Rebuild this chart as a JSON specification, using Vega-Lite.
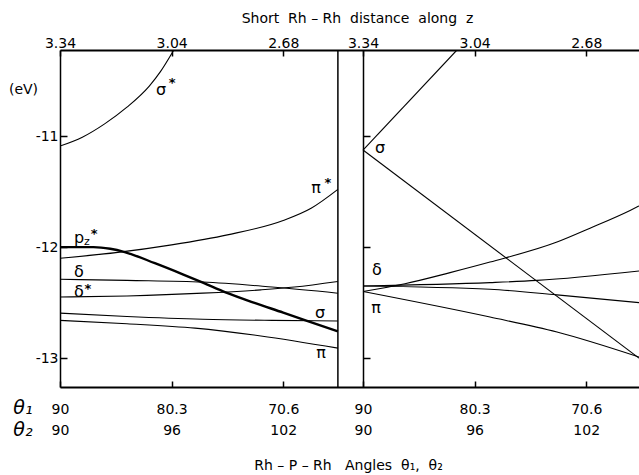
{
  "$schema": "https://vega.github.io/schema/vega-lite/v6.json",
  "width": 579,
  "height": 337,
  "autosize": {"type": "none"},
  "padding": {"left": 60, "top": 50, "right": 0, "bottom": 88},
  "config": {
    "view": {"stroke": null},
    "font": "DejaVu Sans",
    "axis": {
      "labelFont": "DejaVu Sans", "titleFont": "DejaVu Sans",
      "labelColor": "black", "titleColor": "black", "tickColor": "black", "domainColor": "black",
      "labelFontSize": 14, "titleFontSize": 14, "titleFontWeight": "normal",
      "grid": false, "labelFlush": false, "labelOverlap": false, "labelBound": false
    }
  },
  "datasets": {
    "curves": [
      {"curve": "sigmaStar", "t": 0, "v": -11.09}, {"curve": "sigmaStar", "t": 0.2, "v": -11.01}, {"curve": "sigmaStar", "t": 0.4, "v": -10.89}, {"curve": "sigmaStar", "t": 0.6, "v": -10.74}, {"curve": "sigmaStar", "t": 0.8, "v": -10.55}, {"curve": "sigmaStar", "t": 0.9, "v": -10.42}, {"curve": "sigmaStar", "t": 1.02, "v": -10.225},
      {"curve": "piStar", "t": 0, "v": -12.10}, {"curve": "piStar", "t": 0.5, "v": -12.05}, {"curve": "piStar", "t": 1.0, "v": -11.98}, {"curve": "piStar", "t": 1.5, "v": -11.89}, {"curve": "piStar", "t": 2.0, "v": -11.76}, {"curve": "piStar", "t": 2.25, "v": -11.65}, {"curve": "piStar", "t": 2.49, "v": -11.48},
      {"curve": "pz", "t": 0, "v": -12.0}, {"curve": "pz", "t": 0.3, "v": -12.0}, {"curve": "pz", "t": 0.45, "v": -12.015}, {"curve": "pz", "t": 0.58, "v": -12.045}, {"curve": "pz", "t": 0.85, "v": -12.145}, {"curve": "pz", "t": 1.1, "v": -12.245}, {"curve": "pz", "t": 1.28, "v": -12.32}, {"curve": "pz", "t": 1.49, "v": -12.41}, {"curve": "pz", "t": 1.75, "v": -12.505}, {"curve": "pz", "t": 2.0, "v": -12.59}, {"curve": "pz", "t": 2.2, "v": -12.66}, {"curve": "pz", "t": 2.49, "v": -12.76},
      {"curve": "delta", "t": 0, "v": -12.29}, {"curve": "delta", "t": 0.6, "v": -12.30}, {"curve": "delta", "t": 1.28, "v": -12.315}, {"curve": "delta", "t": 1.9, "v": -12.36}, {"curve": "delta", "t": 2.49, "v": -12.415},
      {"curve": "deltaStar", "t": 0, "v": -12.45}, {"curve": "deltaStar", "t": 0.6, "v": -12.44}, {"curve": "deltaStar", "t": 1.28, "v": -12.415}, {"curve": "deltaStar", "t": 1.8, "v": -12.385}, {"curve": "deltaStar", "t": 2.1, "v": -12.36}, {"curve": "deltaStar", "t": 2.49, "v": -12.31},
      {"curve": "sigma", "t": 0, "v": -12.595}, {"curve": "sigma", "t": 0.6, "v": -12.625}, {"curve": "sigma", "t": 1.28, "v": -12.65}, {"curve": "sigma", "t": 1.9, "v": -12.66}, {"curve": "sigma", "t": 2.49, "v": -12.665},
      {"curve": "pi", "t": 0, "v": -12.66}, {"curve": "pi", "t": 0.6, "v": -12.69}, {"curve": "pi", "t": 1.21, "v": -12.73}, {"curve": "pi", "t": 1.8, "v": -12.80}, {"curve": "pi", "t": 2.49, "v": -12.91},
      {"curve": "sigmaUpR", "t": 2.715, "v": -11.126}, {"curve": "sigmaUpR", "t": 3.557, "v": -10.225},
      {"curve": "sigmaDownR", "t": 2.715, "v": -11.126}, {"curve": "sigmaDownR", "t": 5.188, "v": -13.0},
      {"curve": "aR", "t": 2.715, "v": -12.40}, {"curve": "aR", "t": 3.091, "v": -12.33}, {"curve": "aR", "t": 3.495, "v": -12.23}, {"curve": "aR", "t": 3.853, "v": -12.135}, {"curve": "aR", "t": 4.453, "v": -11.955}, {"curve": "aR", "t": 4.749, "v": -11.83}, {"curve": "aR", "t": 5.108, "v": -11.67}, {"curve": "aR", "t": 5.188, "v": -11.63},
      {"curve": "bR", "t": 2.715, "v": -12.35}, {"curve": "bR", "t": 3.853, "v": -12.32}, {"curve": "bR", "t": 4.274, "v": -12.30}, {"curve": "bR", "t": 5.188, "v": -12.215},
      {"curve": "cR", "t": 2.715, "v": -12.35}, {"curve": "cR", "t": 3.853, "v": -12.38}, {"curve": "cR", "t": 4.453, "v": -12.43}, {"curve": "cR", "t": 5.188, "v": -12.50},
      {"curve": "piR", "t": 2.715, "v": -12.40}, {"curve": "piR", "t": 3.853, "v": -12.63}, {"curve": "piR", "t": 4.453, "v": -12.765}, {"curve": "piR", "t": 5.188, "v": -12.99}
    ],
    "labels": [
      {"label": "σ", "t": 0.905, "v": -10.586},
      {"label": "π", "t": 2.294, "v": -11.468},
      {"label": "p", "t": 0.17, "v": -11.919},
      {"label": "δ", "t": 0.17, "v": -12.222},
      {"label": "δ", "t": 0.17, "v": -12.405},
      {"label": "σ", "t": 2.33, "v": -12.595},
      {"label": "π", "t": 2.339, "v": -12.955},
      {"label": "σ", "t": 2.867, "v": -11.108},
      {"label": "δ", "t": 2.84, "v": -12.207},
      {"label": "π", "t": 2.832, "v": -12.55}
    ],
    "stars": [
      {"label": "*", "t": 1.004, "v": -10.495},
      {"label": "*", "t": 2.401, "v": -11.396},
      {"label": "*", "t": 0.251, "v": -12.35},
      {"label": "*", "t": 0.305, "v": -11.856}
    ],
    "subs": [
      {"label": "z", "t": 0.242, "v": -11.955}
    ],
    "rows": [
      {"label": "θ₁", "t": -0.332, "v": -13.45},
      {"label": "θ₂", "t": -0.332, "v": -13.649}
    ]
  },
  "layer": [
    {
      "data": {"name": "curves"},
      "transform": [{"filter": "datum.curve !== 'pz'"}],
      "mark": {"type": "line", "interpolate": "monotone", "color": "black", "strokeWidth": 1.1, "clip": true},
      "encoding": {
        "x": {"field": "t", "type": "quantitative", "scale": {"domain": [0, 5.188], "nice": false, "zero": false},
          "axis": {"orient": "bottom", "values": [0, 1, 2, 2.715, 3.715, 4.715], "tickSize": -6, "tickWidth": 1.5, "domainWidth": 2,
            "labelExpr": "[['90','90'],['80.3','96'],['70.6','102']][round(datum.value > 2.6 ? datum.value - 2.715 : datum.value)]",
            "labelLineHeight": 21, "labelPadding": 21, "labelBaseline": "top",
            "title": "Rh – P – Rh \u00a0 Angles \u00a0θ₁, \u00a0θ₂", "titleX": 288, "titleY": 78, "titleBaseline": "middle", "titleAlign": "center"}},
        "y": {"field": "v", "type": "quantitative", "scale": {"domain": [-13.26, -10.225], "nice": false, "zero": false},
          "axis": {"orient": "left", "values": [-11, -12, -13], "tickSize": -7, "tickWidth": 1.5, "domainWidth": 1.5,
            "labelExpr": "'-' + abs(datum.value)", "labelPadding": 9,
            "title": "(eV)", "titleAngle": 0, "titleX": -37, "titleY": 39, "titleAlign": "center", "titleBaseline": "middle"}},
        "detail": {"field": "curve"}
      }
    },
    {
      "data": {"name": "curves"},
      "transform": [{"filter": "datum.curve === 'pz'"}],
      "mark": {"type": "line", "interpolate": "monotone", "color": "black", "strokeWidth": 2.4, "clip": true},
      "encoding": {
        "x": {"field": "t", "type": "quantitative", "scale": {"domain": [0, 5.188], "nice": false, "zero": false}, "axis": null},
        "y": {"field": "v", "type": "quantitative", "scale": {"domain": [-13.26, -10.225], "nice": false, "zero": false}, "axis": null},
        "detail": {"field": "curve"}
      }
    },
    {
      "data": {"name": "labels"},
      "mark": {"type": "text", "fontSize": 16, "baseline": "middle", "align": "center", "color": "black"},
      "encoding": {
        "x": {"field": "t", "type": "quantitative", "scale": {"domain": [0, 5.188], "nice": false, "zero": false},
          "axis": {"orient": "top", "values": [0, 1, 2, 2.715, 3.715, 4.715], "tickSize": -6, "tickWidth": 1.5, "domainWidth": 2,
            "labelExpr": "['3.34','3.04','2.68'][round(datum.value > 2.6 ? datum.value - 2.715 : datum.value)]",
            "labelPadding": 6,
            "title": "Short \u00a0Rh – Rh \u00a0distance \u00a0along \u00a0z", "titleX": 297, "titleY": -32, "titleBaseline": "middle", "titleAlign": "center"}},
        "y": {"field": "v", "type": "quantitative", "scale": {"domain": [-13.26, -10.225], "nice": false, "zero": false},
          "axis": {"orient": "right", "offset": -276, "values": [-11, -12, -13], "tickSize": 7, "tickWidth": 1.5, "domainWidth": 1.5, "labels": false, "title": null}},
        "text": {"field": "label"}
      }
    },
    {
      "data": {"name": "stars"},
      "mark": {"type": "text", "fontSize": 13, "fontWeight": "bold", "baseline": "middle", "align": "center", "dy": 3, "color": "black"},
      "encoding": {
        "x": {"field": "t", "type": "quantitative", "scale": {"domain": [0, 5.188], "nice": false, "zero": false}, "axis": null},
        "y": {"field": "v", "type": "quantitative", "scale": {"domain": [-13.26, -10.225], "nice": false, "zero": false}, "axis": null},
        "text": {"field": "label"}
      }
    },
    {
      "data": {"name": "subs"},
      "mark": {"type": "text", "fontSize": 11, "baseline": "middle", "align": "center", "color": "black"},
      "encoding": {
        "x": {"field": "t", "type": "quantitative", "scale": {"domain": [0, 5.188], "nice": false, "zero": false}, "axis": null},
        "y": {"field": "v", "type": "quantitative", "scale": {"domain": [-13.26, -10.225], "nice": false, "zero": false}, "axis": null},
        "text": {"field": "label"}
      }
    },
    {
      "data": {"name": "rows"},
      "mark": {"type": "text", "fontSize": 19, "fontStyle": "italic", "baseline": "middle", "align": "center", "color": "black"},
      "encoding": {
        "x": {"field": "t", "type": "quantitative", "scale": {"domain": [0, 5.188], "nice": false, "zero": false}, "axis": null},
        "y": {"field": "v", "type": "quantitative", "scale": {"domain": [-13.26, -10.225], "nice": false, "zero": false}, "axis": null},
        "text": {"field": "label"}
      }
    },
    {
      "data": {"values": [{"edge": 2.49}]},
      "mark": {"type": "rule", "color": "black", "strokeWidth": 1.5},
      "encoding": {
        "x": {"field": "edge", "type": "quantitative", "scale": {"domain": [0, 5.188], "nice": false, "zero": false}, "axis": null}
      }
    }
  ],
  "resolve": {"axis": {"x": "independent", "y": "independent"}}
}
